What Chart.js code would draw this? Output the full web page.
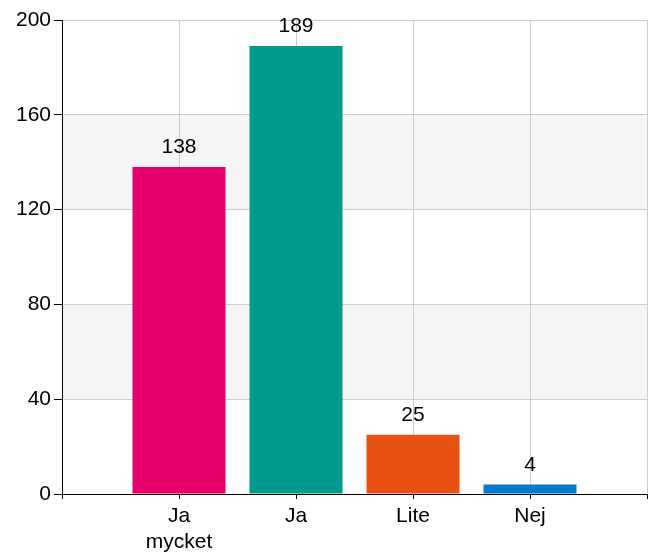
<!DOCTYPE html>
<html>
<head>
<meta charset="utf-8">
<script src="https://cdn.jsdelivr.net/npm/chart.js@4/dist/chart.umd.min.js"></script>
<style>
  body { margin: 0; background: #fff; }
</style>
</head>
<body>
<canvas id="answersChart" width="655" height="556"></canvas>
<script>
// answers per option
const categories = [['Ja', 'mycket'], 'Ja', 'Lite', 'Nej'];
const answers = [138, 189, 25, 4];
const barColors = ['#e5006b', '#00998e', '#e85112', '#007ac9'];
const yTicks = [0, 40, 80, 120, 160, 200];

// empty slot on each side so the bars sit on the grid lines
const labels = [''].concat(categories, ['']);
const values = [null].concat(answers, [null]);
const colors = ['#fff'].concat(barColors, ['#fff']);

const font = { family: 'Liberation Sans, Arial, sans-serif', size: 21 };

// grey stripes behind the grid
const bandPlugin = {
  id: 'bands',
  beforeDraw(chart) {
    const c = chart.ctx, area = chart.chartArea, y = chart.scales.y;
    c.save();
    c.fillStyle = '#f5f5f5';
    [[40, 80], [120, 160]].forEach(function(b) {
      const top = y.getPixelForValue(b[1]);
      const bottom = y.getPixelForValue(b[0]);
      c.fillRect(area.left, top, area.right - area.left, bottom - top);
    });
    c.restore();
  }
};

// numbers above the bars
const valuePlugin = {
  id: 'values',
  afterDatasetsDraw(chart) {
    const c = chart.ctx;
    const meta = chart.getDatasetMeta(0);
    c.save();
    c.font = font.size + 'px ' + font.family;
    c.fillStyle = '#000';
    c.textAlign = 'center';
    c.textBaseline = 'alphabetic';
    meta.data.forEach(function(bar, i) {
      if (values[i] == null) return;
      c.fillText(values[i], bar.x, bar.y - 14);
    });
    c.restore();
  }
};

let ctx = document.getElementById('answersChart');
let answersChart = new Chart(ctx, {
  type: 'bar',
  data: {
    labels: labels,
    datasets: [{
      data: values,
      backgroundColor: colors,
      borderWidth: 0,
      categoryPercentage: 1,
      barPercentage: 0.795
    }]
  },
  options: {
    responsive: false,
    animation: false,
    devicePixelRatio: 1,
    layout: { padding: { top: 20, right: 8, left: 0, bottom: 0 } },
    plugins: {
      legend: { display: false },
      tooltip: { enabled: false }
    },
    scales: {
      x: {
        offset: false,
        afterFit(axis) { axis.height = 62; },
        grid: {
          offset: false,
          color: (c) => c.index === 0 ? '#000' : '#cccccc',
          tickColor: '#000',
          tickLength: 5
        },
        border: { color: '#000' },
        ticks: { color: '#000', font: font, padding: 5, maxRotation: 0, autoSkip: false }
      },
      y: {
        min: 0,
        max: 200,
        afterFit(axis) { axis.width = 62; },
        afterBuildTicks(axis) { axis.ticks = yTicks.map(v => ({ value: v })); },
        grid: {
          color: (c) => c.tick && c.tick.value === 0 ? '#000' : '#cccccc',
          tickColor: '#000',
          tickLength: 8
        },
        border: { color: '#000' },
        ticks: { color: '#000', font: font, padding: 3 }
      }
    }
  },
  plugins: [bandPlugin, valuePlugin]
});
</script>
</body>
</html>
